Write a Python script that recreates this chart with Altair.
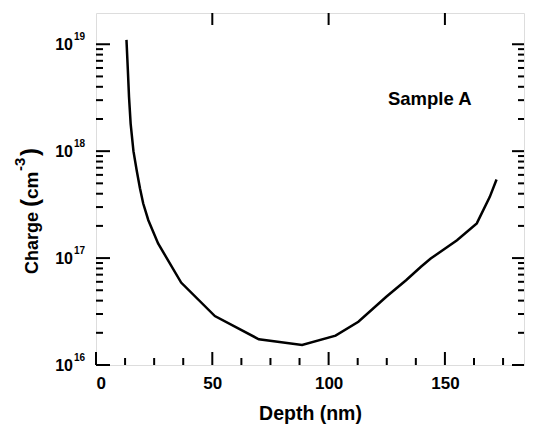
import altair as alt
import pandas as pd

# Curve data (depth in nm, charge in cm^-3)
depth = [13.1, 13.7, 14.2, 14.9, 16.1, 17.5, 18.9, 20.3, 22.5, 26.7, 36.6, 51.1,
         70.0, 88.6, 103.0, 112.8, 124.8, 133.3, 139.7, 143.9, 155.2, 163.7, 169.3, 172.2]
charge = [1.1e19, 5.7e18, 3.2e18, 1.8e18, 1.0e18, 6.6e17, 4.5e17, 3.24e17, 2.26e17, 1.37e17,
          5.9e16, 2.87e16, 1.74e16, 1.54e16, 1.88e16, 2.54e16, 4.35e16, 6.2e16, 8.3e16,
          9.9e16, 1.47e17, 2.11e17, 3.74e17, 5.44e17]

x_labels = [0, 50, 100, 150]
x_minor = [12.5, 25, 37.5, 62.5, 75, 87.5, 112.5, 125, 137.5, 162.5, 175]
top_major = [50, 100, 150]
y_exps = [16, 17, 18, 19]
y_major = [10.0 ** e for e in y_exps]
y_minor = [m * 10.0 ** e for e in [16, 17, 18] for m in range(2, 10)]

annotation = "Sample A"
ann_depth = [143.5]
ann_charge = [3.1e18]

# y-axis title pieces: text, font size, x offset, y offset (pixels from plot top-left)
ytitle_text = ["Charge", "(", "cm", "-3", ")"]
ytitle_size = [18, 24, 19, 15, 24]
ytitle_x = [-58, -58, -58, -71, -58]
ytitle_y = [261, 194, 186, 158, 143]

X_DOMAIN = [0, 184]
Y_DOMAIN = [1e16, 1.96e19]
W, H = 428, 352
FONT = "Liberation Sans"

xscale = alt.Scale(domain=X_DOMAIN, nice=False, zero=False)
yscale = alt.Scale(type="log", domain=Y_DOMAIN, nice=False)

x_axis = alt.Axis(values=x_labels, ticks=False, domain=False, grid=False,
                  labelFont=FONT, labelFontSize=17, labelFontWeight="bold",
                  labelColor="black", labelPadding=10,
                  title="Depth (nm)", titleFont=FONT, titleFontSize=19.5,
                  titleFontWeight="bold", titleColor="black", titlePadding=13)
x_plain = alt.X("depth:Q", scale=xscale, axis=x_axis)
y_plain = alt.Y("charge:Q", scale=yscale, axis=None)

curve_df = pd.DataFrame({"depth": depth, "charge": charge})
line = alt.Chart(curve_df).mark_line(color="black", strokeWidth=2.5).encode(
    x=x_plain, y=y_plain)

bx_major = pd.DataFrame({"depth": x_labels})
bx_minor = pd.DataFrame({"depth": x_minor})
tx_major = pd.DataFrame({"depth": top_major})
ly_major = pd.DataFrame({"charge": y_major})
ly_minor = pd.DataFrame({"charge": y_minor})

TW = 2
bottom_major = alt.Chart(bx_major).mark_rule(color="black", strokeWidth=TW).encode(
    x=x_plain, y=alt.value(H), y2=alt.value(H - 13))
bottom_minor = alt.Chart(bx_minor).mark_rule(color="black", strokeWidth=TW).encode(
    x=x_plain, y=alt.value(H), y2=alt.value(H - 7))
top_ticks = alt.Chart(tx_major).mark_rule(color="black", strokeWidth=TW).encode(
    x=x_plain, y=alt.value(0), y2=alt.value(12))
left_major = alt.Chart(ly_major).mark_rule(color="black", strokeWidth=TW).encode(
    y=y_plain, x=alt.value(0), x2=alt.value(14))
left_minor = alt.Chart(ly_minor).mark_rule(color="black", strokeWidth=TW).encode(
    y=y_plain, x=alt.value(0), x2=alt.value(7))
right_major = alt.Chart(ly_major).mark_rule(color="black", strokeWidth=TW).encode(
    y=y_plain, x=alt.value(W), x2=alt.value(W - 12))
right_minor = alt.Chart(ly_minor).mark_rule(color="black", strokeWidth=TW).encode(
    y=y_plain, x=alt.value(W), x2=alt.value(W - 6))

ylab_df = pd.DataFrame({"charge": y_major, "base": ["10"] * 4,
                        "exp": [str(e) for e in y_exps]})
ylab_base = alt.Chart(ylab_df).mark_text(
    font=FONT, fontSize=16, fontWeight="bold", align="right", baseline="middle",
    color="black", dy=1).encode(y=y_plain, x=alt.value(-23), text="base:N")
ylab_exp = alt.Chart(ylab_df).mark_text(
    font=FONT, fontSize=10, fontWeight="bold", align="left", baseline="middle",
    color="black", dy=-7).encode(y=y_plain, x=alt.value(-22), text="exp:N")

title_layers = []
for t, s, xo, yo in zip(ytitle_text, ytitle_size, ytitle_x, ytitle_y):
    df = pd.DataFrame({"t": [t]})
    title_layers.append(
        alt.Chart(df).mark_text(font=FONT, fontSize=s, fontWeight="bold", angle=270,
                                align="left", baseline="alphabetic", color="black")
        .encode(x=alt.value(xo), y=alt.value(yo), text="t:N"))

ann_df = pd.DataFrame({"depth": ann_depth, "charge": ann_charge, "t": [annotation]})
ann = alt.Chart(ann_df).mark_text(
    font=FONT, fontSize=18.5, fontWeight="bold", align="center", baseline="middle",
    color="black").encode(x=x_plain, y=y_plain, text="t:N")

chart = alt.layer(line, bottom_major, bottom_minor, top_ticks, left_major, left_minor,
                  right_major, right_minor, ylab_base, ylab_exp, *title_layers, ann).properties(
    width=W, height=H,
    autosize=alt.AutoSizeParams(type="none"),
    padding={"left": 88, "top": 5, "right": 1, "bottom": 59},
).configure_view(stroke="black", strokeWidth=2.5).configure(background="white")

chart.save("out.html", embed_options={"renderer": "svg", "actions": False})
